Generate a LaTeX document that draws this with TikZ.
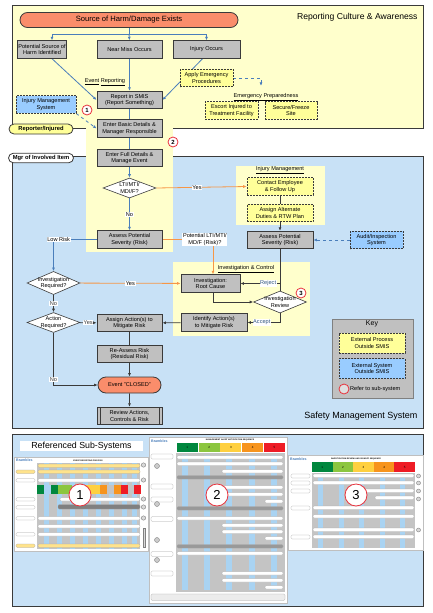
\documentclass[tikz,border=0pt]{standalone}
\usepackage{fontspec}
\setmainfont{Liberation Sans}
\usetikzlibrary{shapes.geometric,shapes.misc,arrows.meta,positioning,backgrounds}
\definecolor{paleyellow}{HTML}{FFFFCC}
\definecolor{extyellow}{HTML}{FFFF99}
\definecolor{paleblue}{HTML}{C8E1F6}
\definecolor{sysblue}{HTML}{99CCFF}
\definecolor{boxgray}{HTML}{C0C0C0}
\definecolor{salmon}{HTML}{FA8D6B}
\definecolor{flowblue}{HTML}{4A7EBB}
\definecolor{floworange}{HTML}{F79646}
\definecolor{edgegray}{HTML}{3A3A3A}
\definecolor{refred}{HTML}{E8323C}
\definecolor{thumbgray}{HTML}{C4C4C4}
\definecolor{thumbstripe}{HTML}{A9D3F2}
\definecolor{riskA}{HTML}{00873E}
\definecolor{riskB}{HTML}{8CC63F}
\definecolor{riskC}{HTML}{FFD040}
\definecolor{riskD}{HTML}{F7941D}
\definecolor{riskE}{HTML}{EE1C25}
\tikzset{
  every node/.style={font=\fontsize{5.6}{6.5}\selectfont},
  procbox/.style={draw=edgegray, line width=0.9pt, fill=boxgray, minimum width=65pt,
    minimum height=17.5pt, inner sep=1pt, align=center},
  extproc/.style={procbox, fill=extyellow, line width=0.6pt, dash pattern=on 2pt off 1pt,
    minimum width=53pt},
  extsys/.style={extproc, fill=sysblue},
  pill/.style={rounded rectangle, draw=edgegray, line width=0.8pt, inner sep=1pt},
  decision/.style={diamond, draw=edgegray, line width=0.6pt, fill=white, align=center,
    inner xsep=-7pt, inner ysep=-3pt, minimum width=53pt, minimum height=20pt},
  lbl/.style={fill=white, inner sep=0.6pt},
  refmark/.style={circle, draw=refred, line width=0.8pt, fill=white, inner sep=0pt,
    minimum size=10pt, font=\fontsize{6}{6}\selectfont\bfseries},
  refbig/.style={refmark, minimum size=22pt, font=\fontsize{13}{13}\selectfont},
  flow/.style={flowblue, line width=0.8pt},
  arrow/.style={-{Latex[length=3.5pt,width=3pt]}},
  thumblogo/.style={text=flowblue, font=\fontsize{3.6}{4}\selectfont\bfseries, inner sep=0pt},
  thumbtext/.style={font=\fontsize{2}{2.4}\selectfont\bfseries, inner sep=0pt},
  bar/.style={rounded corners=1.2pt, draw=gray!70, line width=0.2pt, fill=white},
  thumbcell/.style={minimum width=21pt, minimum height=9pt, inner sep=0pt,
    font=\fontsize{3}{3}\selectfont},
}
\begin{document}
\begin{tikzpicture}[x=1pt,y=-1pt]
  \useasboundingbox (0,0) rectangle (432,613);
  % Reporting culture
  \node[pill, fill=salmon, minimum width=220pt, minimum height=15pt,
    font=\fontsize{7.6}{9}\selectfont] (source) at (129,20) {Source of Harm/Damage Exists};
  \node[anchor=east, font=\fontsize{8.6}{10}\selectfont] (titleA) at (421,17) {Reporting Culture \& Awareness};
  \node[procbox, minimum width=48pt] (potential) at (42,49.5) {Potential Source of\\Harm Identified};
  \node[procbox] (nearmiss) at (129.5,49.5) {Near Miss Occurs};
  \node[procbox, minimum width=67pt] (injury) at (206.5,49.5) {Injury Occurs};
  \node[extproc] (apply) at (206.5,78) {Apply Emergency\\Procedures};
  \node (evrep) at (105,82) {\underline{Event} \underline{Reporting}};
  \node[procbox] (report) at (129.5,100) {Report in SMIS\\(Report Something)};
  \node (emprep) at (266,97) {\underline{Emergency Preparedness}};
  \node[extproc] (escort) at (231.5,110.5) {Escort Injured to\\Treatment Facility};
  \node[extproc, minimum width=52pt] (secure) at (291,110.5) {Secure/Freeze\\Site};
  \node[extsys, minimum width=60pt] (injsys) at (46,104.5) {Injury Management\\System};
  \node[refmark] (refA) at (87,110) {1};
  \node[procbox] (basic) at (129.5,128.5) {Enter Basic Details \&\\Manager Responsible};
  \node[pill, fill=extyellow, minimum width=66pt, minimum height=10pt,
    font=\fontsize{5.8}{6.5}\selectfont\bfseries] (reporter) at (41,129) {Reporter/Injured};
  % Safety management system
  \node[refmark] (refB) at (173,142) {2};
  \node[procbox] (full) at (129.5,158) {Enter Full Details \&\\Manage Event};
  \node[pill, fill=white, minimum width=67pt, minimum height=9.5pt,
    font=\fontsize{5.8}{6.5}\selectfont\bfseries] (mgr) at (41,158) {Mgr of Involved Item};
  \node[decision] (lti) at (129.5,188) {LTI/MTI/\\MDI/F?};
  \node[procbox] (assessL) at (129.5,239.5) {Assess Potential\\Severity (Risk)};
  \node (injmgmt) at (280,170) {\underline{Injury Management}};
  \node[extproc, minimum width=66pt] (contact) at (280,186.5) {Contact Employee\\\& Follow Up};
  \node[extproc, minimum width=66pt] (assign) at (280,213) {Assign Alternate\\Duties \& RTW Plan};
  \node[procbox, minimum width=66pt] (assessR) at (280,240) {Assess Potential\\Severity (Risk)};
  \node[extsys] (audit) at (376.5,240) {Audit/Inspection\\System};
  \node (invctl) at (246,269) {\underline{Investigation \& Control}};
  \node[procbox, minimum width=59pt] (root) at (210.5,283.5) {Investigation:\\Root Cause};
  \node[decision] (review) at (280,302) {Investigation\\Review};
  \node[refmark] (refC) at (301,293) {3};
  \node[procbox, minimum width=66pt] (identify) at (214,322.5) {Identify Action(s)\\to Mitigate Risk};
  \node[decision] (invreq) at (53.5,283) {Investigation\\Required?};
  \node[decision] (actreq) at (53.5,322.5) {Action\\Required?};
  \node[procbox] (assignA) at (129.5,323) {Assign Action(s) to\\Mitigate Risk};
  \node[procbox] (reassess) at (129.5,354) {Re-Assess Risk\\(Residual Risk)};
  \node[pill, fill=salmon, minimum width=65pt, minimum height=16pt] (closed) at (129.5,385) {Event "CLOSED"};
  \node[procbox] (reviewA) at (129.5,416) {Review Actions,\\Controls \& Risk};
  \draw[edgegray, line width=0.6pt] ([xshift=3.5pt]reviewA.north west) -- ([xshift=3.5pt]reviewA.south west);
  \draw[edgegray, line width=0.6pt] ([xshift=-3.5pt]reviewA.north east) -- ([xshift=-3.5pt]reviewA.south east);
  \node[anchor=east, font=\fontsize{9}{10}\selectfont] (titleB) at (421,416) {Safety Management System};
  % Key
  \node[font=\fontsize{7}{8}\selectfont] (keytitle) at (372,324) {Key};
  \node[extproc, minimum width=66pt, minimum height=20pt] (keyext) at (372,343) {External Process\\Outside SMIS};
  \node[extsys, minimum width=66pt, minimum height=20pt] (keysys) at (372,368.5) {External System\\Outside SMIS};
  \node[refmark, fill=gray!25] (keyref) at (344,389) {};
  \node[anchor=west, inner sep=0pt] (keyreftext) at (350,389) {Refer to sub-system};
  % Referenced sub-systems
  \node[fill=white, minimum width=123pt, minimum height=10pt, inner sep=0pt,
    font=\fontsize{8.8}{10}\selectfont] (titleC) at (81.5,446) {Referenced Sub-Systems};
  % Sub-system 1
  \draw[fill=white, draw=gray!50] (14,457) rectangle (148,551);
  \node[thumblogo, anchor=west] (logoA) at (16,460) {Brambles};
  \node[thumbtext] (headA) at (88,460.5) {EVENT REPORTING PROCESS};
  \fill[thumbgray] (37,463) rectangle (140,549);
  \foreach \x in {44,57,70,83,96,109,122,132}
    \fill[thumbstripe] (\x,463) rectangle ++(5,86);
  \foreach \x/\c in {37/riskA,44/thumbstripe,51/riskA,58/riskB,65/riskB,72/thumbstripe,
      79/riskC,86/riskC,93/riskC,100/riskD,107/thumbgray,114/riskD,121/riskE,128/thumbgray,134/riskE}
    \fill[\c] (\x,485) rectangle ++(6.5,9);
  \foreach \xa/\ya/\c in {38/464/riskC!60,38/470/riskC!60,38/478.5/white,60/497.5/white,
      38/516.5/white,38/524.5/white,38/532.5/white,38/544/riskC!60}
    \draw[bar, fill=\c] (\xa,\ya) rectangle (140,\ya+3.5);
  \draw[bar, fill=gray] (58,504.5) rectangle (140,509);
  \foreach \ya/\c in {470/riskC!60,478.5/white,497.5/white,505.5/white,516.5/white,532.5/white,544/riskC!60}
    \draw[bar, fill=\c] (16,\ya) rectangle (35,\ya+3.5);
  \foreach \ya in {465,480,499,507,518}
    \draw[fill=gray!30, draw=gray] (143.5,\ya) circle (2.2);
  \draw[fill=gray!30, draw=gray] (143.5,528) rectangle (145.5,547);
  \node[refbig] (subA) at (80,495) {1};
  % Sub-system 2
  \draw[fill=white, draw=gray!50] (149,437) rectangle (287,603);
  \node[thumblogo, anchor=west] (logoB) at (151,441) {Brambles};
  \node[thumbtext] (headB) at (230,440) {MANAGEMENT ALERT NOTIFICATION SEQUENCE};
  \foreach \i/\c in {1/riskA,2/riskB,3/riskC,4/riskD,5/riskE}
    \node[thumbcell, fill=\c] (cellB\i) at (165.5+21.8*\i,447.5) {\i};
  \fill[thumbgray] (176,453) rectangle (285,592);
  \foreach \x in {182,204,226,249,271}
    \fill[thumbstripe] (\x,455) rectangle ++(6,135);
  \foreach \xa/\ya in {177/455.5,177/462,222/469.5,222/485.5,222/492.5,265/499.5,177/516.5,
      222/523.5,222/530,265/536.5,177/551.5,222/571.5,222/578.5,265/585.5}
    \draw[bar] (\xa,\ya) rectangle (283,\ya+3.5);
  \foreach \ya in {475.5,506.5,544.5}
    \draw[bar, fill=gray!80] (177,\ya) rectangle (283,\ya+3.5);
  \foreach \ya in {454,484,497,516.5,551.5,571}
    \draw[bar] (151,\ya) rectangle (173,\ya+5);
  \foreach \ya in {466,504,540,560}
    \draw[fill=gray!40, draw=gray] (157,\ya) circle (2.5);
  \draw[bar, fill=gray!15] (151,594) rectangle (285,600.5);
  \node[refbig] (subB) at (217,495) {2};
  % Sub-system 3
  \draw[fill=white, draw=gray!50] (288,455) rectangle (423,550);
  \node[thumblogo, anchor=west] (logoC) at (290,459) {Brambles};
  \node[thumbtext] (headC) at (356,459) {INVESTIGATION REVIEW AND SIGNOFF SEQUENCE};
  \foreach \i/\c in {1/riskA,2/riskB,3/riskC,4/riskD,5/riskE}
    \node[thumbcell, minimum width=20.6pt, minimum height=10pt, fill=\c] (cellC\i) at (301.7+20.6*\i,467) {\i};
  \fill[thumbgray] (312,473) rectangle (415,548);
  \foreach \x in {318,339,359,380,400}
    \fill[thumbstripe] (\x,474) rectangle ++(5,74);
  \foreach \xa/\ya in {313/474,313/481,350/489,375/496,313/506,313/514.5,313/528,313/535}
    \draw[bar] (\xa,\ya) rectangle (414,\ya+3.5);
  \foreach \ya in {474,481,489,506,535}
    \draw[bar] (291,\ya) rectangle (310,\ya+4);
  \foreach \ya in {476,483,491,499,530}
    \draw[fill=gray!30, draw=gray] (418.5,\ya) circle (2);
  \node[refbig] (subC) at (356,495) {3};
  % Panels and regions
  \begin{scope}[on background layer]
    \draw[fill=paleyellow, draw=edgegray, line width=0.8pt] (12,5) rectangle (423,128);
    \draw[fill=paleblue, draw=edgegray, line width=0.8pt] (12,156) rectangle (423,428);
    \draw[fill=paleblue, draw=edgegray, line width=0.8pt] (12,434) rectangle (423,606);
    \fill[paleyellow] (86,100) rectangle (173,252);
    \fill[paleyellow] (236,166) rectangle (325,225);
    \fill[paleyellow] (173,262) rectangle (310,336);
    \draw[fill=boxgray, draw=gray, line width=0.6pt] (332,319) rectangle (413,398);
  \end{scope}
  % Connectors
  \begin{scope}[on background layer]
    \draw[flow] (source.south) -- ++(0,6) coordinate (split);
    \draw[flow, arrow] (split) -| ([xshift=10pt]potential.north);
    \draw[flow, arrow] (split) -- (nearmiss.north);
    \draw[flow, arrow] (split) -| (injury.north);
    \draw[flow, arrow] ([xshift=10pt]potential.south) -- (report.west);
    \draw[flow, arrow] (nearmiss) -- (report);
    \draw[flow, arrow] ([xshift=-4pt]injury.south) -- (report.east);
    \draw[flow, dashed, arrow, shorten >=4pt] (apply.east) -| ([xshift=-5pt]emprep.north);
    \draw[flow, dashed, arrow] (injsys.south east) -- (basic.west);
    \draw[flow] (report) -- (basic);
    \draw[flow] (basic) -- (full);
    \draw[flow, arrow] (full) -- (lti);
    \draw[flow, arrow] (lti) -- (assessL) node[lbl, midway, text=black] {No};
    \draw[floworange, line width=0.8pt, arrow] (lti.east) -- (contact.west) node[lbl, pos=0.45, text=black] {Yes};
    \draw[flow, arrow] (assessL.west) -| (invreq.north) node[lbl, pos=0.44, text=black] {Low Risk};
    \draw[floworange, line width=0.8pt, arrow] (assessL.east) -| ([xshift=2.5pt]root.north)
      node[lbl, pos=0.42, align=center, text=black] {Potential LTI/MTI/\\MD/F (Risk)?};
    \draw[edgegray, line width=0.6pt] (contact) -- (assign);
    \draw[edgegray, line width=0.8pt, arrow] (assign) -- (assessR);
    \draw[flow, dashed, arrow] (audit) -- (assessR);
    \draw[edgegray, line width=0.8pt] (assessR) -- (review);
    \draw[edgegray, line width=0.8pt, arrow] (review.north |- root.east) -- (root.east)
      node[lbl, pos=0.3, text=flowblue!70!black] {Reject};
    \draw[edgegray, line width=0.8pt, arrow] ([xshift=2.5pt]root.south) |- (review.west);
    \draw[edgegray, line width=0.8pt, arrow] (review.south) |- (identify.east)
      node[lbl, pos=0.78, text=flowblue!70!black] {Accept};
    \draw[edgegray, line width=0.8pt, arrow] (identify) -- (assignA);
    \draw[floworange, line width=0.8pt, arrow] (invreq) -- (root) node[lbl, midway, text=black] {Yes};
    \draw[edgegray, line width=0.8pt, arrow] (invreq) -- (actreq) node[lbl, midway] {No};
    \draw[edgegray, line width=0.8pt, arrow] (actreq) -- (assignA) node[lbl, midway] {Yes};
    \draw[edgegray, line width=0.8pt, arrow] (actreq.south) |- (closed.west) node[lbl, pos=0.45] {No};
    \draw[edgegray, line width=0.8pt] (assignA) -- (reassess);
    \draw[edgegray, line width=0.8pt, arrow] (reassess) -- (closed);
    \draw[edgegray, line width=0.8pt, arrow] (closed) -- (reviewA);
  \end{scope}
\end{tikzpicture}
\end{document}
